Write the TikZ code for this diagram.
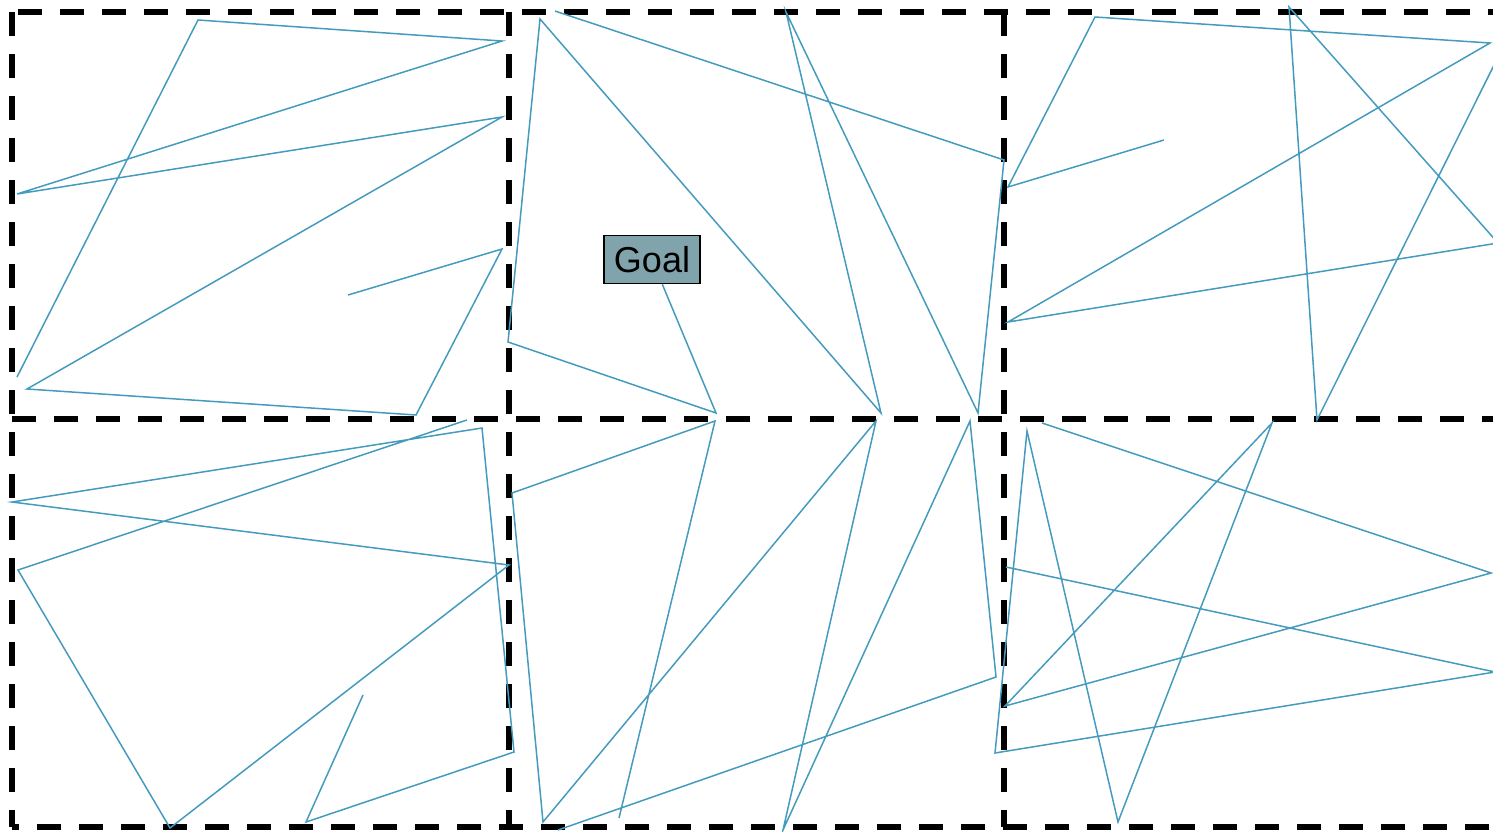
\documentclass[tikz,border=0pt]{standalone}
\usepackage{fontspec}
\setmainfont{Liberation Sans}
\definecolor{walk}{RGB}{68,155,190}
\definecolor{goalfill}{RGB}{128,163,172}
\begin{document}
\begin{tikzpicture}[x=1pt,y=-1pt,
  gridline/.style={line width=5.5pt, dash pattern=on 23.5pt off 18.5pt},
  walkline/.style={draw=walk, line width=1.5pt},
  goalbox/.style={draw=black, line width=1.4pt, fill=goalfill,
    minimum width=96pt, minimum height=48pt, inner sep=0pt,
    font=\fontsize{36}{40}\selectfont}]
\useasboundingbox (0,0) rectangle (1493,831);
\clip (0,0) rectangle (1493,831);

% dashed 3x2 grid of cells
\draw[gridline, dash phase=36pt] (12,12) -- (1520,12);
\draw[gridline] (12,419) -- (1520,419);
\draw[gridline, dash phase=17pt] (12,827) -- (1520,827);
\foreach \x in {12,509,1004} \draw[gridline] (\x,12) -- (\x,827);

% goal
\node[goalbox] (goal) at (652,259.5) {Goal};

% path vertices, cell by cell
\coordinate (a0) at (17,377);  \coordinate (a1) at (198,20);
\coordinate (a2) at (502,41);  \coordinate (a3) at (17,194);
\coordinate (a4) at (502,117); \coordinate (a5) at (27,389);
\coordinate (a6) at (416,415); \coordinate (a7) at (502,249);
\coordinate (a8) at (348,295);

\coordinate (b0) at (555,11);  \coordinate (b1) at (1004,160);
\coordinate (b2) at (978,413); \coordinate (b3) at (786,12);
\coordinate (b4) at (881,413); \coordinate (b5) at (540,19);
\coordinate (b6) at (508,342); \coordinate (b7) at (716,413);

\coordinate (c0) at (1164,140); \coordinate (c1) at (1008,187);
\coordinate (c2) at (1095,17);  \coordinate (c3) at (1490,43);
\coordinate (c4) at (1008,322); \coordinate (c5) at (1498,243);
\coordinate (c6) at (1289,7);   \coordinate (c7) at (1317,420);
\coordinate (c8) at (1500,53);

\coordinate (d0) at (467,420); \coordinate (d1) at (18,570);
\coordinate (d2) at (170,828); \coordinate (d3) at (509,565);
\coordinate (d4) at (12,502);  \coordinate (d5) at (482,428);
\coordinate (d6) at (514,752); \coordinate (d7) at (306,822);
\coordinate (d8) at (363,695);

\coordinate (e0) at (558,830); \coordinate (e1) at (996,677);
\coordinate (e2) at (970,421); \coordinate (e3) at (783,830);
\coordinate (e4) at (876,421); \coordinate (e5) at (543,822);
\coordinate (e6) at (512,493); \coordinate (e7) at (715,421);
\coordinate (e8) at (619,818);

\coordinate (f0) at (1042,423); \coordinate (f1) at (1491,573);
\coordinate (f2) at (1005,706); \coordinate (f3) at (1272,423);
\coordinate (f4) at (1118,822); \coordinate (f5) at (1027,431);
\coordinate (f6) at (995,753);  \coordinate (f7) at (1495,672);
\coordinate (f8) at (1006,567);

% walks
\draw[walkline] (a0) -- (a1) -- (a2) -- (a3) -- (a4) -- (a5) -- (a6) -- (a7) -- (a8);
\draw[walkline] (b0) -- (b1) -- (b2) -- (b3) -- (b4) -- (b5) -- (b6) -- (b7) -- (goal);
\draw[walkline] (c0) -- (c1) -- (c2) -- (c3) -- (c4) -- (c5) -- (c6) -- (c7) -- (c8);
\draw[walkline] (d0) -- (d1) -- (d2) -- (d3) -- (d4) -- (d5) -- (d6) -- (d7) -- (d8);
\draw[walkline] (e0) -- (e1) -- (e2) -- (e3) -- (e4) -- (e5) -- (e6) -- (e7) -- (e8);
\draw[walkline] (f0) -- (f1) -- (f2) -- (f3) -- (f4) -- (f5) -- (f6) -- (f7) -- (f8);
\end{tikzpicture}
\end{document}
